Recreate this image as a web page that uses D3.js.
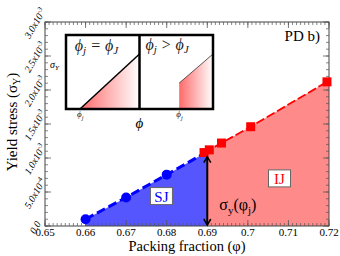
<!DOCTYPE html>
<html>
<head>
<meta charset="utf-8">
<script src="https://cdn.jsdelivr.net/npm/d3@7"></script>
<style>
  body { margin: 0; background: #fff; }
  text { font-family: "Liberation Serif", "DejaVu Serif", serif; }
</style>
</head>
<body>
<script>
// packing fraction and yield stress (in units of 1e-3)
const sjPhi = [0.66, 0.67, 0.68, 0.6893];
const sjStress = [0.10, 0.42, 0.755, 1.07];
const ijPhi = [0.6892, 0.6905, 0.6935, 0.7007, 0.7195];
const ijStress = [1.08, 1.12, 1.22, 1.46, 2.12];
const phiJ = 0.69;

const xTicks = [0.65, 0.66, 0.67, 0.68, 0.69, 0.70, 0.71, 0.72];
const xTickLabels = ['0.65', '0.66', '0.67', '0.68', '0.69', '0.7', '0.71', '0.72'];
const yTicks = [0, 0.5, 1.0, 1.5, 2.0, 2.5, 3.0];
const yTickLabels = [['0.0', ''], ['5.0x10', '-4'], ['1.0x10', '-3'], ['1.5x10', '-3'],
  ['2.0x10', '-3'], ['2.5x10', '-3'], ['3.0x10', '-3']];

const width = 340, height = 256;
const margin = { top: 22, right: 11, bottom: 30, left: 45 };

const svg = d3.select('body').append('svg')
  .attr('width', width)
  .attr('height', height);

const x = d3.scaleLinear().domain([0.65, 0.72]).range([margin.left, width - margin.right]);
const y = d3.scaleLinear().domain([0, 3.0]).range([height - margin.bottom, margin.top]);

const sj = sjPhi.map((p, i) => ({ phi: p, s: sjStress[i] }));
const ij = ijPhi.map((p, i) => ({ phi: p, s: ijStress[i] }));

// Clip areas left / right of phi_J
const defs = svg.append('defs');
defs.append('clipPath').attr('id', 'clipLeft').append('rect')
  .attr('x', x(0.65)).attr('y', y(3)).attr('width', x(phiJ) - x(0.65)).attr('height', y(0) - y(3));
defs.append('clipPath').attr('id', 'clipRight').append('rect')
  .attr('x', x(phiJ)).attr('y', y(3)).attr('width', x(0.72) - x(phiJ) + 4).attr('height', y(0) - y(3));

const area = d3.area().x(d => x(d.phi)).y0(y(0)).y1(d => y(d.s));
const line = d3.line().x(d => x(d.phi)).y(d => y(d.s));

svg.append('path')
  .attr('d', area(sj.concat([ij[1]])))
  .attr('clip-path', 'url(#clipLeft)')
  .attr('fill', '#5656ff');

svg.append('path')
  .attr('d', area([sj[sj.length - 2]].concat(ij).concat([{ phi: 0.72, s: ijStress[ijStress.length - 1] }])))
  .attr('clip-path', 'url(#clipRight)')
  .attr('fill', '#ff8a8a');

// Axes with inward ticks, mirrored
const frame = svg.append('g');
frame.append('rect')
  .attr('x', x(0.65)).attr('y', y(3))
  .attr('width', x(0.72) - x(0.65)).attr('height', y(0) - y(3))
  .attr('fill', 'none').attr('stroke', '#444').attr('stroke-width', 1);

const xMinor = d3.range(0.65, 0.7201, 0.001);
const yMinor = d3.range(0, 3.001, 0.1);
const tickColor = '#555';
[y(0), y(3)].forEach((yy, k) => {
  const dir = k === 0 ? -1 : 1;
  frame.selectAll(null).data(xMinor).enter().append('line')
    .attr('x1', d => x(d)).attr('x2', d => x(d))
    .attr('y1', yy).attr('y2', yy + dir * 3)
    .attr('stroke', tickColor).attr('stroke-width', 0.7);
  frame.selectAll(null).data(xTicks).enter().append('line')
    .attr('x1', d => x(d)).attr('x2', d => x(d))
    .attr('y1', yy).attr('y2', yy + dir * 6)
    .attr('stroke', tickColor).attr('stroke-width', 0.8);
});
[x(0.65), x(0.72)].forEach((xx, k) => {
  const dir = k === 0 ? 1 : -1;
  frame.selectAll(null).data(yMinor).enter().append('line')
    .attr('y1', d => y(d)).attr('y2', d => y(d))
    .attr('x1', xx).attr('x2', xx + dir * 3)
    .attr('stroke', tickColor).attr('stroke-width', 0.7);
  frame.selectAll(null).data(yTicks).enter().append('line')
    .attr('y1', d => y(d)).attr('y2', d => y(d))
    .attr('x1', xx).attr('x2', xx + dir * 6)
    .attr('stroke', tickColor).attr('stroke-width', 0.8);
});

// tick labels
svg.selectAll('.xlab').data(xTicks).enter().append('text')
  .attr('class', 'xlab')
  .attr('x', d => x(d))
  .attr('y', y(0) + 10)
  .attr('text-anchor', 'middle')
  .attr('font-size', 11)
  .text((d, i) => xTickLabels[i]);

const ylab = svg.selectAll('.ylab').data(yTicks).enter().append('text')
  .attr('class', 'ylab')
  .attr('transform', d => `translate(${x(0.65) - 7},${y(d) + 3}) rotate(-60)`)
  .attr('text-anchor', 'middle')
  .attr('font-size', 10)
  .attr('font-style', 'italic');
ylab.append('tspan').text((d, i) => yTickLabels[i][0]);
ylab.append('tspan')
  .attr('dy', -4)
  .attr('font-size', 7)
  .text((d, i) => yTickLabels[i][1]);

// axis titles
svg.append('text')
  .attr('x', (x(0.65) + x(0.72)) / 2)
  .attr('y', 251)
  .attr('text-anchor', 'middle')
  .attr('font-size', 14.5)
  .text('Packing fraction (φ)');

const yTitle = svg.append('text')
  .attr('transform', `translate(17,${(y(0) + y(3)) / 2 - 2}) rotate(-90)`)
  .attr('text-anchor', 'middle')
  .attr('font-size', 15)
  .text('Yield stress (σ');
yTitle.append('tspan').attr('font-size', 10).attr('dy', 3).text('Y');
yTitle.append('tspan').attr('dy', -3).text(')');

// data lines and markers
svg.append('path')
  .attr('d', line(sj))
  .attr('fill', 'none')
  .attr('stroke', '#0000ff')
  .attr('stroke-width', 3)
  .attr('stroke-dasharray', '9,4');

svg.append('path')
  .attr('d', line(ij))
  .attr('fill', 'none')
  .attr('stroke', '#ff0000')
  .attr('stroke-width', 1.8)
  .attr('stroke-dasharray', '9,3');

svg.selectAll('.sjpt').data(sj.slice(0, 3)).enter().append('circle')
  .attr('cx', d => x(d.phi)).attr('cy', d => y(d.s))
  .attr('r', 5)
  .attr('fill', '#0000ff');

svg.selectAll('.ijpt').data(ij).enter().append('rect')
  .attr('x', d => x(d.phi) - 4.5).attr('y', d => y(d.s) - 4.5)
  .attr('width', 9).attr('height', 9)
  .attr('fill', '#ff0000');

// double arrow sigma_y(phi_j)
const arrowTop = y(1.02), arrowBot = y(0) - 1;
svg.append('line')
  .attr('x1', x(phiJ)).attr('x2', x(phiJ))
  .attr('y1', arrowTop).attr('y2', arrowBot)
  .attr('stroke', '#000').attr('stroke-width', 2);
[[arrowTop, 1], [arrowBot, -1]].forEach(([yy, dir]) => {
  svg.append('path')
    .attr('d', `M${x(phiJ) - 3.5},${yy + dir * 6} L${x(phiJ)},${yy} L${x(phiJ) + 3.5},${yy + dir * 6}`)
    .attr('fill', 'none').attr('stroke', '#000').attr('stroke-width', 1.5);
});

const sigLab = svg.append('text')
  .attr('x', x(phiJ) + 12)
  .attr('y', y(0.24))
  .attr('font-size', 16)
  .text('σ');
sigLab.append('tspan').attr('font-size', 11).attr('dy', 4).text('y');
sigLab.append('tspan').attr('dy', -4).text('(φ');
sigLab.append('tspan').attr('font-size', 11).attr('dy', 4).text('j');
sigLab.append('tspan').attr('dy', -4).text(')');

// region labels
function boxLabel(cx, cy, label, color) {
  const g = svg.append('g');
  g.append('rect')
    .attr('x', cx - 11).attr('y', cy - 8.5)
    .attr('width', 22).attr('height', 17)
    .attr('fill', '#fff').attr('stroke', '#666').attr('stroke-width', 1);
  g.append('text')
    .attr('x', cx).attr('y', cy + 5.5)
    .attr('text-anchor', 'middle')
    .attr('font-size', 15)
    .attr('fill', color)
    .text(label);
}
boxLabel(x(0.6787), y(0.44), 'SJ', '#0000ff');
boxLabel(x(0.7078), y(0.70), 'IJ', '#ff0000');

svg.append('text')
  .attr('x', x(0.72) - 9)
  .attr('y', y(2.72))
  .attr('text-anchor', 'end')
  .attr('font-size', 15)
  .text('PD b)');

// inset schematic
const ix = d3.scaleLinear().domain([0, 2]).range([66, 213]);
const iy = d3.scaleLinear().domain([0, 1]).range([109, 35]);
const inset = svg.append('g');
const grad = defs.append('linearGradient').attr('id', 'fade');
grad.append('stop').attr('offset', '0%').attr('stop-color', '#ff6a6a');
grad.append('stop').attr('offset', '100%').attr('stop-color', '#ffffff');

inset.append('rect')
  .attr('x', ix(0)).attr('y', iy(1))
  .attr('width', ix(2) - ix(0)).attr('height', iy(0) - iy(1))
  .attr('fill', '#fff');

const panelA = [[0.19, 0], [1, 0.743]];
const panelB = [[1.54, 0.35], [2, 0.743]];
inset.append('path')
  .attr('d', `M${ix(panelA[0][0])},${iy(0)} L${ix(panelA[1][0])},${iy(panelA[1][1])} L${ix(panelA[1][0])},${iy(0)} Z`)
  .attr('fill', 'url(#fade)');
inset.append('path')
  .attr('d', `M${ix(panelB[0][0])},${iy(0)} L${ix(panelB[0][0])},${iy(panelB[0][1])} L${ix(panelB[1][0])},${iy(panelB[1][1])} L${ix(panelB[1][0])},${iy(0)} Z`)
  .attr('fill', 'url(#fade)');
inset.append('line')
  .attr('x1', ix(panelA[0][0])).attr('y1', iy(panelA[0][1]))
  .attr('x2', ix(panelA[1][0])).attr('y2', iy(panelA[1][1]))
  .attr('stroke', '#000').attr('stroke-width', 1.5);
inset.append('line')
  .attr('x1', ix(panelB[0][0])).attr('y1', iy(panelB[0][1]))
  .attr('x2', ix(panelB[1][0])).attr('y2', iy(panelB[1][1]))
  .attr('stroke', '#333').attr('stroke-width', 0.8);

inset.append('rect')
  .attr('x', ix(0)).attr('y', iy(1))
  .attr('width', ix(2) - ix(0)).attr('height', iy(0) - iy(1))
  .attr('fill', 'none').attr('stroke', '#000').attr('stroke-width', 2.5);
inset.append('line')
  .attr('x1', ix(1)).attr('x2', ix(1)).attr('y1', iy(1)).attr('y2', iy(0))
  .attr('stroke', '#000').attr('stroke-width', 2.5);

function phiText(xx, yy, sub, rel, sub2, size) {
  const t = inset.append('text')
    .attr('x', xx).attr('y', yy)
    .attr('font-size', size)
    .attr('font-style', 'italic')
    .attr('fill', '#222');
  t.append('tspan').text('ϕ');
  t.append('tspan').attr('font-size', size * 0.7).attr('dy', 3).text(sub);
  if (rel) {
    t.append('tspan').attr('dy', -3).text(' ' + rel + ' ϕ');
    t.append('tspan').attr('font-size', size * 0.7).attr('dy', 3).text(sub2);
  }
}
phiText(ix(0.12), iy(0.78), 'j', '=', 'J', 16);
phiText(ix(1.08), iy(0.8), 'j', '>', 'J', 16);
phiText(ix(0.15), 117, 'j', null, null, 9);
phiText(ix(1.5), 117, 'j', null, null, 9);

inset.append('text')
  .attr('x', ix(1)).attr('y', 128)
  .attr('text-anchor', 'middle')
  .attr('font-size', 15)
  .attr('font-style', 'italic')
  .text('ϕ');

const sy = inset.append('text')
  .attr('x', ix(0) - 16).attr('y', iy(0.55))
  .attr('font-size', 10)
  .attr('font-style', 'italic')
  .text('σ');
sy.append('tspan').attr('font-size', 7).attr('dy', 2).text('Y');
</script>
</body>
</html>
